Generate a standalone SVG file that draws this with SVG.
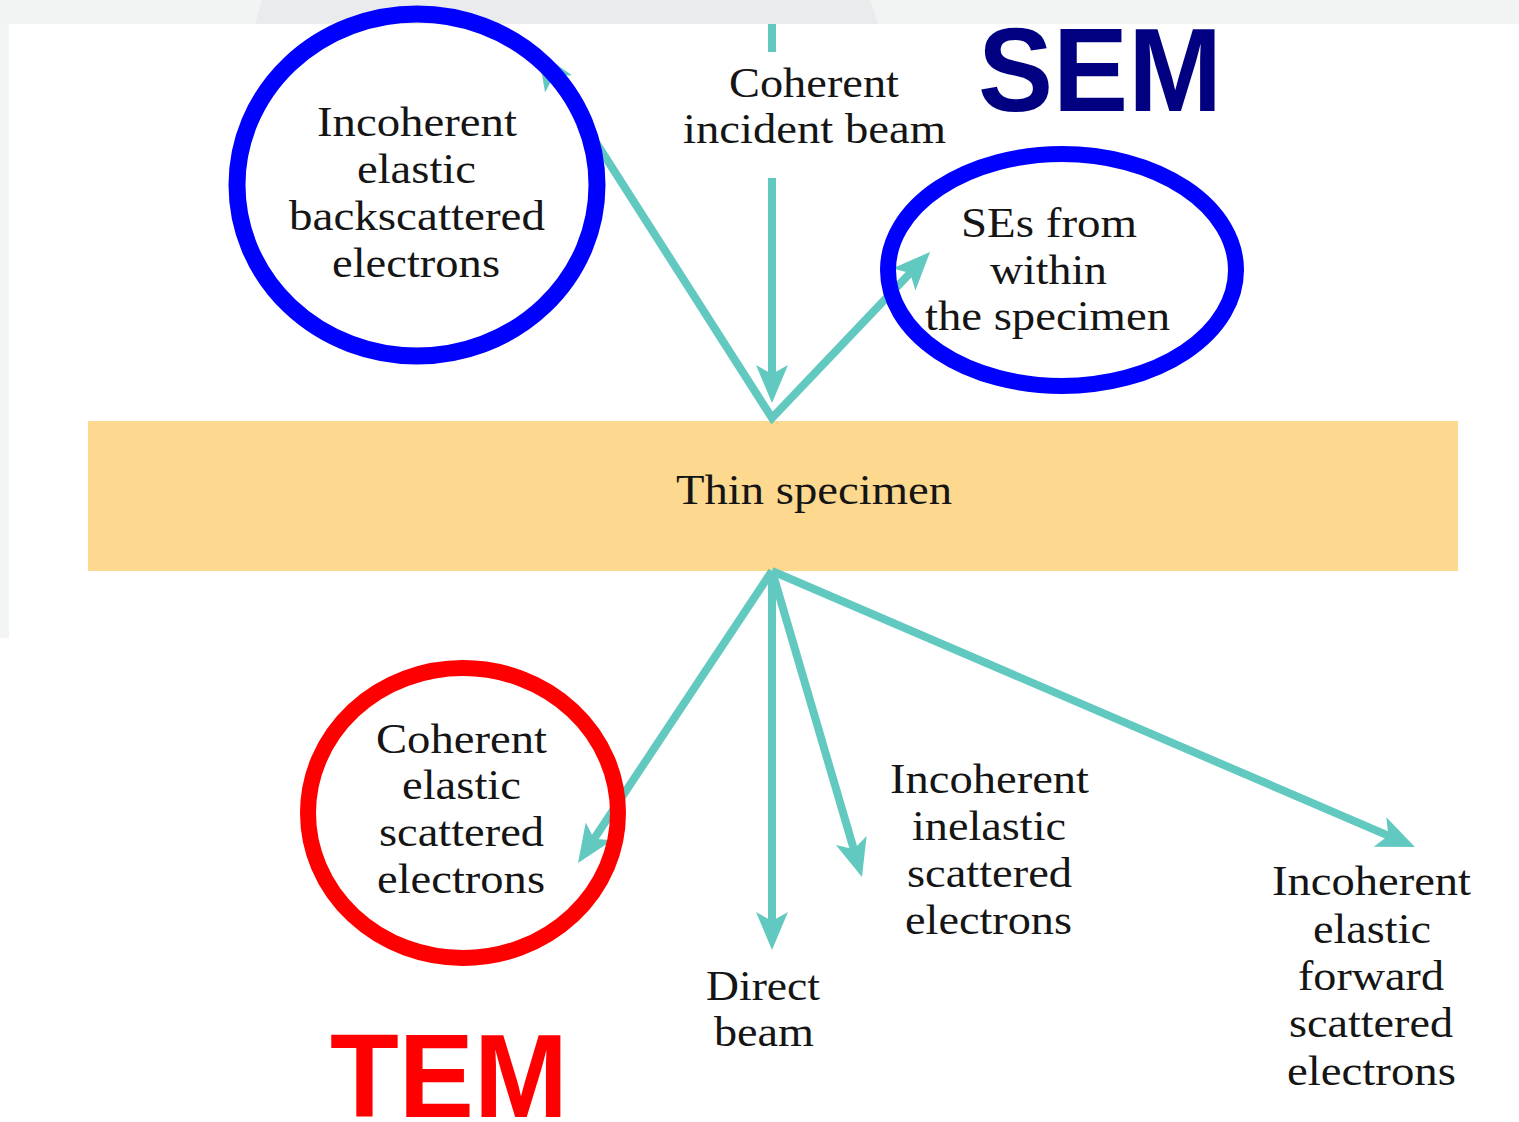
<svg xmlns="http://www.w3.org/2000/svg" width="1519" height="1122" viewBox="0 0 1519 1122">
<style>
.t{font-family:"Liberation Serif","Times New Roman",serif;font-size:43px;fill:#151515;text-anchor:middle}
.big{font-family:"Liberation Sans",Arial,sans-serif;font-weight:bold;font-size:119px}
.ar{stroke:#62C9C0;stroke-width:8;fill:none}
</style>
<defs>
<marker id="ah" markerUnits="userSpaceOnUse" viewBox="0 -17 40 34" markerWidth="40" markerHeight="34" refX="14" refY="0" orient="auto-start-reverse">
<path d="M38,0 L0,-16 L9,0 L0,16 Z" fill="#62C9C0"/>
</marker>
</defs>
<rect width="1519" height="1122" fill="#fff"/>
<rect x="0" y="0" width="1519" height="24" fill="#F2F3F3"/>
<polygon points="262,0 870,0 878,24 255,24" fill="#EAEBED"/>
<rect x="0" y="24" width="9" height="614" fill="#F3F4F4"/>

<g id="specimen">
<rect x="88" y="421" width="1370" height="150" fill="#FDD88F"/>
<text class="t" x="814" y="504" textLength="276" lengthAdjust="spacingAndGlyphs">Thin specimen</text>
</g>

<g id="connectors">
<line class="ar" x1="772" y1="24" x2="772" y2="52"/>
<line class="ar" x1="772" y1="178" x2="772" y2="379" marker-end="url(#ah)"/>
<path class="ar" d="M551,72 L772,418 L913.5,269.4" stroke-linejoin="miter" marker-start="url(#ah)" marker-end="url(#ah)"/>
<line class="ar" x1="772" y1="571" x2="591.3" y2="843" marker-end="url(#ah)"/>
<line class="ar" x1="772" y1="571" x2="772" y2="926" marker-end="url(#ah)"/>
<line class="ar" x1="772" y1="571" x2="855.2" y2="854" marker-end="url(#ah)"/>
<line class="ar" x1="772" y1="571" x2="1392.9" y2="837.6" marker-end="url(#ah)"/>
</g>

<g id="incident">
<text class="t" x="814" y="97" textLength="170" lengthAdjust="spacingAndGlyphs">Coherent</text>
<text class="t" x="814.5" y="143" textLength="263" lengthAdjust="spacingAndGlyphs">incident beam</text>
</g>

<g id="backscattered">
<text class="t" x="417" y="136" textLength="200" lengthAdjust="spacingAndGlyphs">Incoherent</text>
<text class="t" x="416.5" y="183" textLength="119" lengthAdjust="spacingAndGlyphs">elastic</text>
<text class="t" x="417" y="230" textLength="256" lengthAdjust="spacingAndGlyphs">backscattered</text>
<text class="t" x="416" y="277" textLength="168" lengthAdjust="spacingAndGlyphs">electrons</text>
<ellipse cx="417" cy="185" rx="180" ry="171" fill="none" stroke="#0000FF" stroke-width="17"/>
</g>

<g id="secondary">
<text class="t" x="1049" y="237" textLength="176" lengthAdjust="spacingAndGlyphs">SEs from</text>
<text class="t" x="1048.5" y="284" textLength="117" lengthAdjust="spacingAndGlyphs">within</text>
<text class="t" x="1047.5" y="330" textLength="245" lengthAdjust="spacingAndGlyphs">the specimen</text>
<ellipse cx="1062" cy="270" rx="174" ry="116" fill="none" stroke="#0000FF" stroke-width="16"/>
</g>

<g id="coherent-elastic">
<text class="t" x="461.5" y="753" textLength="171" lengthAdjust="spacingAndGlyphs">Coherent</text>
<text class="t" x="461.5" y="799" textLength="119" lengthAdjust="spacingAndGlyphs">elastic</text>
<text class="t" x="461.5" y="846" textLength="165" lengthAdjust="spacingAndGlyphs">scattered</text>
<text class="t" x="461" y="893" textLength="168" lengthAdjust="spacingAndGlyphs">electrons</text>
<ellipse cx="463" cy="813" rx="155" ry="145" fill="none" stroke="#FF0000" stroke-width="16"/>
</g>

<g id="direct">
<text class="t" x="763" y="1000" textLength="114" lengthAdjust="spacingAndGlyphs">Direct</text>
<text class="t" x="764" y="1046" textLength="100" lengthAdjust="spacingAndGlyphs">beam</text>
</g>

<g id="inelastic">
<text class="t" x="989.5" y="793" textLength="199" lengthAdjust="spacingAndGlyphs">Incoherent</text>
<text class="t" x="989" y="840" textLength="154" lengthAdjust="spacingAndGlyphs">inelastic</text>
<text class="t" x="989.5" y="887" textLength="165" lengthAdjust="spacingAndGlyphs">scattered</text>
<text class="t" x="988.5" y="934" textLength="167" lengthAdjust="spacingAndGlyphs">electrons</text>
</g>

<g id="forward">
<text class="t" x="1371.5" y="895" textLength="199" lengthAdjust="spacingAndGlyphs">Incoherent</text>
<text class="t" x="1372" y="943" textLength="118" lengthAdjust="spacingAndGlyphs">elastic</text>
<text class="t" x="1371" y="990" textLength="146" lengthAdjust="spacingAndGlyphs">forward</text>
<text class="t" x="1371" y="1037" textLength="164" lengthAdjust="spacingAndGlyphs">scattered</text>
<text class="t" x="1371.5" y="1085" textLength="169" lengthAdjust="spacingAndGlyphs">electrons</text>
</g>

<g id="sem-label">
<text class="big" x="978" y="111" fill="#000080" textLength="244" lengthAdjust="spacingAndGlyphs">SEM</text>
</g>
<g id="tem-label">
<text class="big" x="330" y="1117" fill="#FF0000" textLength="238" lengthAdjust="spacingAndGlyphs">TEM</text>
</g>
</svg>
